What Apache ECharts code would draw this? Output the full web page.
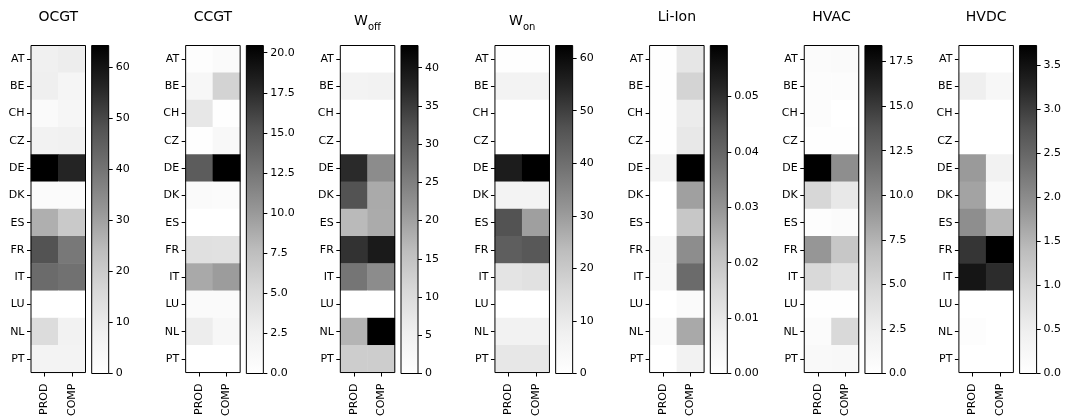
<!DOCTYPE html>
<html>
<head>
<meta charset="utf-8">
<script src="https://cdn.jsdelivr.net/npm/echarts@6/dist/echarts.min.js"></script>
<style>
  html, body { margin: 0; padding: 0; background: #fff; }
  #chart { width: 1065px; height: 419px; }
</style>
</head>
<body>
<div id="chart"></div>
<script>
// Rows and columns shared by every panel
const countries = ['AT', 'BE', 'CH', 'CZ', 'DE', 'DK', 'ES', 'FR', 'IT', 'LU', 'NL', 'PT'];
const roles = ['PROD', 'COMP'];

// Panel titles (W_x is drawn with a subscript)
const techNames = ['OCGT', 'CCGT', 'W_off', 'W_on', 'Li-Ion', 'HVAC', 'HVDC'];

// Values per country, one array per technology and role
const ocgtProd = [8.0, 8.5, 2.5, 7.0, 64.2, 2.0, 27.0, 48.0, 42.0, 0.0, 15.0, 6.5];
const ocgtComp = [9.0, 5.5, 5.0, 7.5, 56.5, 2.0, 20.5, 39.0, 40.5, 0.0, 7.0, 6.5];

const ccgtProd = [0.4, 1.3, 3.6, 0.1, 14.6, 0.9, 0.0, 4.3, 9.0, 0.9, 2.9, 0.0];
const ccgtComp = [0.8, 5.7, 0.1, 1.2, 20.45, 0.6, 0.0, 4.2, 9.8, 0.9, 1.4, 0.0];

const woffProd = [0.0, 4.2, 0.0, 0.0, 37.0, 32.0, 16.5, 36.0, 26.5, 0.0, 17.3, 13.0];
const woffComp = [0.0, 4.6, 0.0, 0.0, 23.0, 18.7, 18.5, 39.2, 23.0, 0.0, 42.9, 13.0];

const wonProd = [0.3, 6.0, 0.0, 0.0, 56.5, 6.0, 46.5, 44.0, 12.0, 0.2, 7.0, 11.0];
const wonComp = [0.3, 6.0, 0.0, 0.0, 62.4, 6.0, 29.4, 45.5, 13.0, 0.2, 7.0, 11.0];

const lionProd = [0.0003, 0.0003, 0.0003, 0.0003, 0.006, 0.0002, 0.0002, 0.004, 0.0034, 0.0002, 0.0024, 0.0002];
const lionComp = [0.0106, 0.016, 0.0086, 0.010, 0.0592, 0.0277, 0.0195, 0.0315, 0.0387, 0.0024, 0.026, 0.0064];

const hvacProd = [0.6, 0.5, 0.4, 0.2, 18.4, 4.8, 0.3, 9.2, 4.6, 0.2, 0.6, 0.9];
const hvacComp = [0.7, 0.5, 0.0, 0.2, 9.7, 3.1, 0.6, 6.1, 3.7, 0.2, 4.6, 1.0];

const hvdcProd = [0.0, 0.48, 0.0, 0.0, 1.81, 1.71, 1.97, 3.09, 3.46, 0.0, 0.07, 0.0];
const hvdcComp = [0.0, 0.26, 0.0, 0.0, 0.40, 0.19, 1.45, 3.72, 3.18, 0.0, 0.0, 0.0];

// Colorbar tick labels per panel
const ocgtTicks = ['0', '10', '20', '30', '40', '50', '60'];
const ccgtTicks = ['0.0', '2.5', '5.0', '7.5', '10.0', '12.5', '15.0', '17.5', '20.0'];
const woffTicks = ['0', '5', '10', '15', '20', '25', '30', '35', '40'];
const wonTicks = ['0', '10', '20', '30', '40', '50', '60'];
const lionTicks = ['0.00', '0.01', '0.02', '0.03', '0.04', '0.05'];
const hvacTicks = ['0.0', '2.5', '5.0', '7.5', '10.0', '12.5', '15.0', '17.5'];
const hvdcTicks = ['0.0', '0.5', '1.0', '1.5', '2.0', '2.5', '3.0', '3.5'];

const prodSets = [ocgtProd, ccgtProd, woffProd, wonProd, lionProd, hvacProd, hvdcProd];
const compSets = [ocgtComp, ccgtComp, woffComp, wonComp, lionComp, hvacComp, hvdcComp];
const tickSets = [ocgtTicks, ccgtTicks, woffTicks, wonTicks, lionTicks, hvacTicks, hvdcTicks];

// Greys colour ramp (white -> black)
const greys = ['#ffffff', '#f0f0f0', '#d9d9d9', '#bdbdbd', '#969696', '#737373', '#525252', '#252525', '#000000'];

// Layout
const FONT = 'DejaVu Sans';
const FIRST_LEFT = 31;
const STEP = 154.65;
const HM_W = 54.5;
const CB_OFFSET = 60.7;
const CB_W = 17;
const TOP = 45.5;
const HEIGHT = 328;

const grid = [], xAxis = [], yAxis = [], series = [], visualMap = [], title = [];

const tickStyle = { color: '#000', width: 1 };
const labelBase = { color: '#000', fontSize: 11, fontFamily: FONT };

function titleText(name) {
  const m = name.match(/^(\w)_(\w+)$/);
  return m ? '{m|' + m[1] + '}{s|' + m[2] + '}' : name;
}

techNames.forEach((name, i) => {
  const left = FIRST_LEFT + i * STEP;
  const prod = prodSets[i], comp = compSets[i];
  const vmax = Math.max(...prod, ...comp);
  const tickLabels = tickSets[i];
  const tickValues = tickLabels.map(Number);

  // heatmap grid and colorbar grid
  grid.push({ left: left, top: TOP, width: HM_W, height: HEIGHT, show: true,
    borderColor: '#000', borderWidth: 1, backgroundColor: 'transparent', z: 10 });
  grid.push({ left: left + CB_OFFSET, top: TOP, width: CB_W, height: HEIGHT, show: true,
    borderColor: '#000', borderWidth: 1, backgroundColor: 'transparent', z: 10 });

  xAxis.push({
    gridIndex: 2 * i, type: 'category', data: roles, position: 'bottom',
    axisLine: { show: false }, splitLine: { show: false },
    axisTick: { show: true, alignWithLabel: true, length: 4, lineStyle: tickStyle },
    axisLabel: Object.assign({ rotate: 90, margin: 11, interval: 0 }, labelBase)
  });
  xAxis.push({ gridIndex: 2 * i + 1, type: 'category', data: [''], show: false });

  yAxis.push({
    gridIndex: 2 * i, type: 'category', data: countries, inverse: true,
    axisLine: { show: false }, splitLine: { show: false },
    axisTick: { show: true, alignWithLabel: true, length: 4, lineStyle: tickStyle },
    axisLabel: Object.assign({ margin: 6.5, interval: 0 }, labelBase)
  });
  yAxis.push({
    gridIndex: 2 * i + 1, type: 'value', position: 'right', min: 0, max: vmax,
    axisLine: { show: false }, splitLine: { show: false },
    axisTick: { show: true, length: 4, lineStyle: tickStyle, customValues: tickValues },
    axisLabel: Object.assign({
      margin: 7, customValues: tickValues,
      formatter: v => {
        let best = 0;
        tickValues.forEach((t, k) => { if (Math.abs(t - v) < Math.abs(tickValues[best] - v)) best = k; });
        return tickLabels[best];
      }
    }, labelBase)
  });

  const cells = [];
  countries.forEach((c, r) => {
    cells.push([0, r, prod[r]]);
    cells.push([1, r, comp[r]]);
  });

  visualMap.push({
    type: 'continuous', show: false, seriesIndex: series.length, dimension: 2,
    min: 0, max: vmax, inRange: { color: greys }
  });
  series.push({
    type: 'heatmap', xAxisIndex: 2 * i, yAxisIndex: 2 * i, data: cells,
    silent: true, emphasis: { disabled: true }, progressive: 0
  });
  series.push({
    type: 'bar', xAxisIndex: 2 * i + 1, yAxisIndex: 2 * i + 1, data: [vmax],
    barWidth: '100%', silent: true, animation: false,
    itemStyle: {
      color: {
        type: 'linear', x: 0, y: 1, x2: 0, y2: 0,
        colorStops: greys.map((col, k) => ({ offset: k / (greys.length - 1), color: col }))
      }
    }
  });

  title.push({
    text: titleText(name), left: left + HM_W / 2, top: 10, textAlign: 'center', padding: 0,
    textStyle: {
      fontSize: 14, fontWeight: 'normal', color: '#000', fontFamily: FONT,
      rich: {
        m: { fontSize: 14, fontFamily: FONT, color: '#000', lineHeight: 22 },
        s: { fontSize: 10, fontFamily: FONT, color: '#000', lineHeight: 10, verticalAlign: 'bottom' }
      }
    }
  });
});

const chart = echarts.init(document.getElementById('chart'), null, { renderer: 'canvas' });
chart.setOption({
  backgroundColor: '#fff',
  animation: false,
  title, grid, xAxis, yAxis, visualMap, series
});
</script>
</body>
</html>
